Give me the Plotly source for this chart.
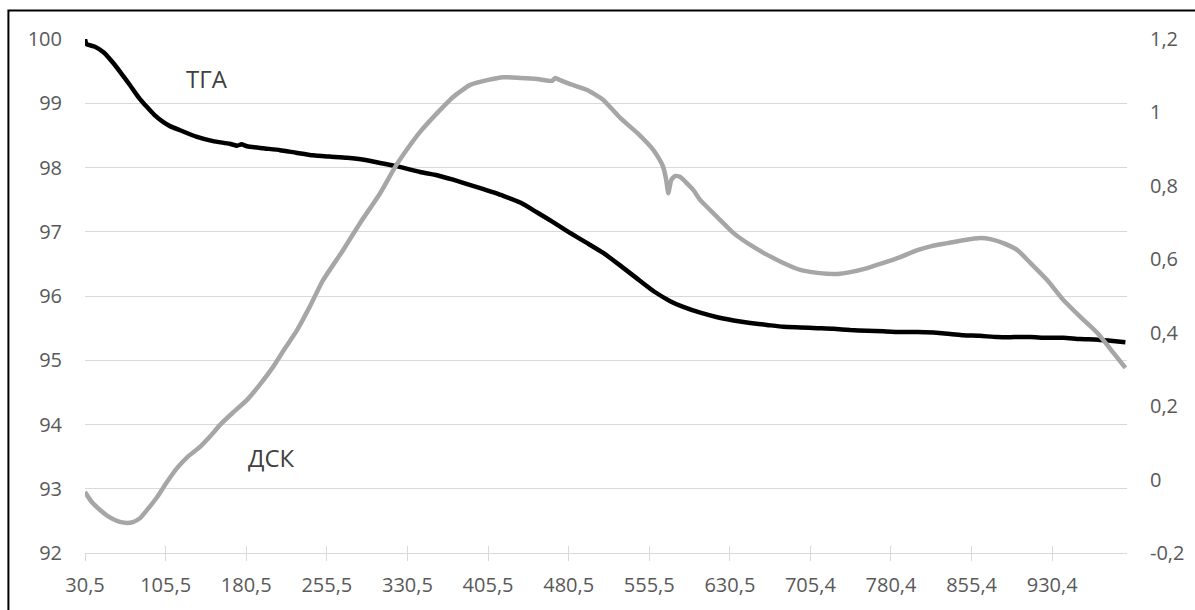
import plotly.graph_objects as go

# ---- data ----
tga_t = [30.5, 32.0, 39.8, 48.0, 56.6, 64.0, 72.4, 80.0, 88.2, 95.0, 103.1, 110.0, 118.9,
         134.0, 149.6, 165.0, 172.0, 176.0, 181.3, 196.0, 212.0, 227.0, 242.7, 258.0, 274.4,
         290.0, 305.1, 323.0, 342.3, 358.0, 373.0, 396.0, 419.6, 436.0, 451.2, 466.0, 482.0,
         497.0, 512.7, 528.0, 544.3, 560.0, 575.0, 587.1, 603.0, 618.8, 634.0, 649.5, 665.0,
         680.2, 696.0, 711.9, 727.0, 742.6, 758.0, 773.3, 789.0, 804.9, 820.0, 835.6, 847.7,
         863.0, 879.4, 895.0, 910.1, 925.0, 940.8, 956.0, 972.5, 987.0, 998.5]
tga_v = [100.0, 99.92, 99.88, 99.79, 99.63, 99.47, 99.28, 99.10, 98.94, 98.82, 98.71, 98.64,
         98.58, 98.48, 98.41, 98.37, 98.34, 98.36, 98.33, 98.30, 98.27, 98.23, 98.19, 98.17,
         98.15, 98.12, 98.07, 98.01, 97.93, 97.88, 97.81, 97.69, 97.56, 97.45, 97.30, 97.15,
         96.98, 96.83, 96.67, 96.48, 96.27, 96.07, 95.92, 95.83, 95.74, 95.67, 95.62, 95.58,
         95.55, 95.52, 95.51, 95.50, 95.49, 95.47, 95.46, 95.45, 95.44, 95.44, 95.43, 95.41,
         95.39, 95.38, 95.36, 95.36, 95.36, 95.35, 95.35, 95.33, 95.32, 95.30, 95.28]

dsc_t = [30.5, 37.0, 44.5, 51.0, 58.4, 64.0, 69.6, 75.0, 81.7, 89.0, 97.5, 106.0, 116.1,
         126.0, 137.5, 147.0, 156.2, 168.0, 181.3, 193.0, 205.5, 216.0, 227.8, 240.0, 252.0,
         270.0, 286.5, 305.1, 319.0, 331.0, 342.3, 358.1, 373.0, 388.9, 404.7, 419.6, 435.4,
         451.2, 465.2, 468.0, 472.6, 482.0, 497.8, 512.7, 528.5, 544.3, 559.2, 565.0, 568.5,
         571.3, 573.2, 576.0, 579.7, 584.3, 596.4, 603.0, 618.8, 633.7, 649.5, 665.3, 680.2,
         696.0, 711.9, 730.5, 742.6, 758.4, 773.3, 789.1, 804.9, 818.0, 832.8, 847.7, 863.6,
         872.9, 884.9, 898.0, 910.1, 925.9, 940.8, 956.6, 972.5, 987.4, 998.5]
dsc_v = [-0.034, -0.062, -0.083, -0.098, -0.110, -0.116, -0.118, -0.116, -0.105, -0.080,
         -0.048, -0.010, 0.031, 0.062, 0.089, 0.118, 0.149, 0.182, 0.217, 0.258, 0.307,
         0.355, 0.407, 0.473, 0.543, 0.622, 0.699, 0.780, 0.851, 0.903, 0.947, 0.998, 1.042,
         1.075, 1.088, 1.096, 1.094, 1.091, 1.086, 1.094, 1.088, 1.077, 1.061, 1.034, 0.985,
         0.944, 0.898, 0.872, 0.851, 0.816, 0.780, 0.816, 0.827, 0.824, 0.789, 0.761, 0.715,
         0.672, 0.639, 0.612, 0.590, 0.571, 0.563, 0.560, 0.565, 0.576, 0.590, 0.606, 0.625,
         0.636, 0.644, 0.652, 0.658, 0.655, 0.644, 0.625, 0.590, 0.543, 0.489, 0.443, 0.399,
         0.345, 0.304]

x_tickvals = [30.5, 105.5, 180.5, 255.5, 330.5, 405.5, 480.5, 555.5, 630.5,
              705.4, 780.4, 855.4, 930.4]
x_ticktext = ["30,5", "105,5", "180,5", "255,5", "330,5", "405,5", "480,5", "555,5",
              "630,5", "705,4", "780,4", "855,4", "930,4"]
y_left_ticks = [92, 93, 94, 95, 96, 97, 98, 99, 100]
y_right_ticks = [-0.2, 0, 0.2, 0.4, 0.6, 0.8, 1.0, 1.2]
y_right_text = ["-0,2", "0", "0,2", "0,4", "0,6", "0,8", "1", "1,2"]

FONT = "Open Sans"
TICK_COLOR = "#595959"
GRID = "#d9d9d9"

fig = go.Figure()
fig.add_trace(go.Scatter(x=dsc_t, y=dsc_v, mode="lines", yaxis="y2",
                         line=dict(color="#a6a6a6", width=4.5, shape="spline", smoothing=0.5),
                         name="ДСК"))
fig.add_trace(go.Scatter(x=tga_t, y=tga_v, mode="lines", yaxis="y",
                         line=dict(color="#000000", width=4.5, shape="spline", smoothing=0.5),
                         name="ТГА"))
# empty helper trace so the overlay x-axis (inner tick halves) is drawn
fig.add_trace(go.Scatter(x=[], y=[], xaxis="x2", yaxis="y", showlegend=False))

fig.update_layout(
    width=1195, height=610,
    margin=dict(l=85, r=68, t=39, b=57),
    paper_bgcolor="white", plot_bgcolor="white",
    showlegend=False,
    font=dict(family=FONT, size=20, color=TICK_COLOR),
    xaxis=dict(range=[30.5, 1000], tickvals=x_tickvals, ticktext=x_ticktext,
               showgrid=False, zeroline=False, showline=True, linecolor=GRID, linewidth=1,
               ticks="outside", ticklen=7, tickcolor=GRID, tickwidth=1,
               ticklabelstandoff=7, tickfont=dict(size=20, color=TICK_COLOR)),
    xaxis2=dict(range=[30.5, 1000], tickvals=x_tickvals, showticklabels=False,
                overlaying="x", anchor="y", side="bottom",
                showgrid=False, zeroline=False, showline=False,
                ticks="inside", ticklen=7, tickcolor=GRID, tickwidth=1),
    yaxis=dict(range=[92, 100], tickvals=y_left_ticks, showgrid=True, gridcolor=GRID,
               gridwidth=1, zeroline=False, showline=False, ticks="",
               ticklabelstandoff=22, tickfont=dict(size=20, color=TICK_COLOR)),
    yaxis2=dict(range=[-0.2, 1.2], tickvals=y_right_ticks, ticktext=y_right_text,
                overlaying="y", side="right", showgrid=False, zeroline=False,
                showline=False, ticks="", ticklabelstandoff=22,
                tickfont=dict(size=20, color=TICK_COLOR)),
    annotations=[
        dict(x=144, y=99.39, xref="x", yref="y", text="ТГА", showarrow=False,
             font=dict(family=FONT, size=24, color="#404040")),
        dict(x=203.6, y=93.48, xref="x", yref="y", text="ДСК", showarrow=False,
             font=dict(family=FONT, size=24, color="#404040")),
    ],
    shapes=[dict(type="rect", xref="paper", yref="paper",
                 x0=-0.0735, x1=1.08, y0=-0.13, y1=1.0555,
                 line=dict(color="black", width=2), fillcolor="rgba(0,0,0,0)",
                 layer="above")],
)

fig.write_html("out.html")
